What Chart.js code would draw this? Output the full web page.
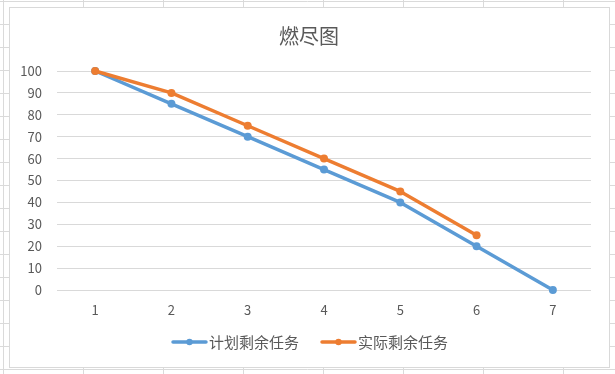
<!DOCTYPE html>
<html>
<head>
<meta charset="utf-8">
<script src="https://cdn.jsdelivr.net/npm/chart.js@4"></script>
<style>
  html, body { margin: 0; padding: 0; background: #fff; }
  #wrap { width: 615px; height: 374px; }
</style>
</head>
<body>
<div id="wrap"><canvas id="burndown"></canvas></div>
<script>
// Chart data
const titleText = '燃尽图';
const days = ['1', '2', '3', '4', '5', '6', '7'];
const plannedLabel = '计划剩余任务';
const actualLabel = '实际剩余任务';
const planned = [100, 85, 70, 55, 40, 20, 0];
const actual = [100, 90, 75, 60, 45, 25];

const font = '"Noto Sans CJK SC", "Noto Sans", sans-serif';
const textColor = '#595959';
const blue = '#5B9BD5';
const orange = '#ED7D31';

// Spreadsheet cells behind the chart + chart box, title and legend
const sheetPlugin = {
  id: 'sheet',
  beforeDraw(chart) {
    const ctx = chart.ctx;
    const w = chart.width, h = chart.height;
    ctx.save();
    ctx.fillStyle = '#fff';
    ctx.fillRect(0, 0, w, h);
    ctx.strokeStyle = '#dadada';
    ctx.lineWidth = 1;
    ctx.beginPath();
    ctx.moveTo(3.5, 0); ctx.lineTo(3.5, h);
    for (let x = 83; x < w; x += 80) {
      ctx.moveTo(x + 0.5, 0); ctx.lineTo(x + 0.5, h);
    }
    for (let y = 1; y < h; y += 23) {
      ctx.moveTo(0, y + 0.5); ctx.lineTo(w, y + 0.5);
    }
    ctx.stroke();
    // chart box
    ctx.fillStyle = '#fff';
    ctx.fillRect(9, 7, 600, 360);
    ctx.strokeStyle = '#d9d9d9';
    ctx.strokeRect(9.5, 7.5, 600, 360);
    ctx.restore();
  },
  afterDraw(chart) {
    const ctx = chart.ctx;
    ctx.save();
    // title
    ctx.fillStyle = textColor;
    ctx.font = '20px ' + font;
    ctx.textAlign = 'center';
    ctx.textBaseline = 'middle';
    ctx.fillText(titleText, 309, 36);

    // legend
    ctx.font = '15px ' + font;
    ctx.textAlign = 'left';
    const items = [
      { text: plannedLabel, color: blue },
      { text: actualLabel, color: orange }
    ];
    const markW = 35, gapText = 2, gapItem = 22;
    let total = 0;
    items.forEach((it, i) => {
      it.w = ctx.measureText(it.text).width;
      total += markW + gapText + it.w + (i ? gapItem : 0);
    });
    let x = 310 - total / 2;
    const y = 342;
    items.forEach(it => {
      ctx.strokeStyle = it.color;
      ctx.lineWidth = 3.5;
      ctx.lineCap = 'round';
      ctx.beginPath();
      ctx.moveTo(x + 1, y); ctx.lineTo(x + markW - 1, y);
      ctx.stroke();
      ctx.fillStyle = it.color;
      ctx.beginPath();
      ctx.arc(x + markW / 2, y, 3.2, 0, Math.PI * 2);
      ctx.fill();
      ctx.fillStyle = textColor;
      ctx.fillText(it.text, x + markW + gapText, y);
      x += markW + gapText + it.w + gapItem;
    });
    ctx.restore();
  }
};

new Chart(document.getElementById('burndown'), {
  type: 'line',
  data: {
    labels: days,
    datasets: [
      {
        label: plannedLabel,
        data: planned,
        order: 1,
        clip: false,
        borderColor: blue,
        backgroundColor: blue,
        borderWidth: 3.5,
        pointRadius: 4,
        pointBorderWidth: 0,
        pointHoverRadius: 4,
        tension: 0,
        borderJoinStyle: 'round'
      },
      {
        label: actualLabel,
        data: actual,
        order: 0,
        clip: false,
        borderColor: orange,
        backgroundColor: orange,
        borderWidth: 3.5,
        pointRadius: 4,
        pointBorderWidth: 0,
        pointHoverRadius: 4,
        tension: 0,
        borderJoinStyle: 'round'
      }
    ]
  },
  options: {
    responsive: true,
    maintainAspectRatio: false,
    animation: false,
    layout: { padding: { left: 0, right: 24, top: 71, bottom: 0 } },
    plugins: {
      legend: { display: false },
      title: { display: false },
      tooltip: { enabled: false }
    },
    scales: {
      x: {
        offset: true,
        grid: { display: false, drawTicks: false },
        border: { display: false },
        ticks: { color: textColor, font: { family: font, size: 13 }, padding: 12 },
        afterFit(scale) { scale.height = 84; }
      },
      y: {
        min: 0,
        max: 100,
        grid: { color: '#d9d9d9', drawTicks: false },
        border: { display: false },
        ticks: { stepSize: 10, color: textColor, font: { family: font, size: 13 }, padding: 15 },
        afterFit(scale) { scale.width = 57; }
      }
    }
  },
  plugins: [sheetPlugin]
});
</script>
</body>
</html>
